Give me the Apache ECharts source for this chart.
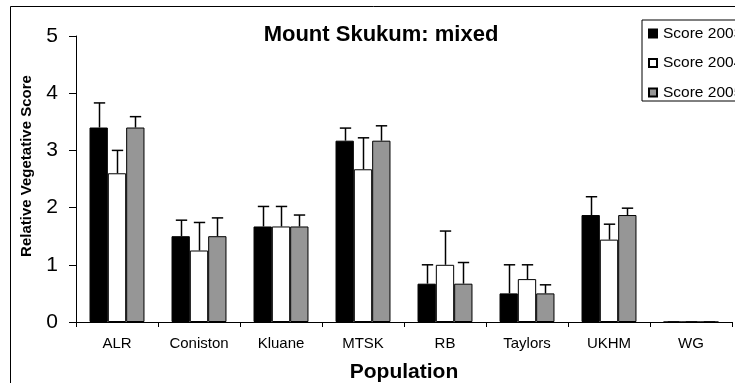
<!DOCTYPE html>
<html>
<head>
<meta charset="utf-8">
<script src="https://cdn.jsdelivr.net/npm/echarts@6/dist/echarts.min.js"></script>
<style>
  html, body { margin: 0; padding: 0; background: #fff; }
  #chart { width: 735px; height: 383px; }
</style>
</head>
<body>
<div id="chart"></div>
<script>
// Populations sampled at Mount Skukum (mixed plots)
const categories = ['ALR', 'Coniston', 'Kluane', 'MTSK', 'RB', 'Taylors', 'UKHM', 'WG'];

// Mean relative vegetative score per year
const score2003 = [3.4, 1.5, 1.67, 3.17, 0.67, 0.5, 1.87, 0];
const score2004 = [2.6, 1.25, 1.67, 2.67, 1.0, 0.75, 1.44, 0];
const score2005 = [3.4, 1.5, 1.67, 3.17, 0.67, 0.5, 1.87, 0];

// Upper error (standard error) per year
const err2003 = [0.43, 0.28, 0.35, 0.22, 0.33, 0.5, 0.32, 0];
const err2004 = [0.4, 0.49, 0.35, 0.55, 0.59, 0.25, 0.27, 0];
const err2005 = [0.19, 0.32, 0.2, 0.26, 0.37, 0.15, 0.12, 0];

const yTicks = [0, 1, 2, 3, 4, 5];

const FONT = '"Liberation Sans", Arial, sans-serif';
const CAT_GAP = 0.33;   // fraction of each category band left empty
const N_SERIES = 3;

const yearSeries = [
  { name: 'Score 2003', values: score2003, errors: err2003, color: '#000000' },
  { name: 'Score 2004', values: score2004, errors: err2004, color: '#ffffff' },
  { name: 'Score 2005', values: score2005, errors: err2005, color: '#969696' }
];

function errorBarRenderer(slot) {
  return function (params, api) {
    const band = api.size([1, 0])[0];
    const barW = band * (1 - CAT_GAP) / N_SERIES;
    const offset = (slot - (N_SERIES - 1) / 2) * barW;
    const base = api.coord([api.value(0), api.value(1)]);
    const top = api.coord([api.value(0), api.value(2)]);
    const x = Math.round(base[0] + offset) + 0.5;
    const capHalf = barW * 0.31;
    const style = { stroke: '#000', lineWidth: 1.5 };
    return {
      type: 'group',
      children: [
        { type: 'line', shape: { x1: x, y1: base[1], x2: x, y2: top[1] }, style: style },
        { type: 'line', shape: { x1: x - capHalf, y1: top[1], x2: x + capHalf, y2: top[1] }, style: style }
      ]
    };
  };
}

const series = [];
yearSeries.forEach(function (s) {
  series.push({
    name: s.name,
    type: 'bar',
    data: s.values,
    barGap: '0%',
    barCategoryGap: (CAT_GAP * 100) + '%',
    itemStyle: { color: s.color, borderColor: '#000', borderWidth: 1 },
    emphasis: { disabled: true },
    z: 2
  });
});
yearSeries.forEach(function (s, i) {
  series.push({
    name: s.name + ' error',
    type: 'custom',
    renderItem: errorBarRenderer(i),
    data: s.values.map(function (v, k) { return [k, v, v + s.errors[k]]; }),
    encode: { x: 0, y: [1, 2] },
    z: 3,
    silent: true
  });
});

const chart = echarts.init(document.getElementById('chart'), null, { renderer: 'canvas' });
chart.setOption({
  animation: false,
  backgroundColor: '#ffffff',
  textStyle: { fontFamily: FONT, color: '#000' },
  grid: { left: 76, right: 3, top: 36, bottom: 61, containLabel: false, outerBoundsMode: 'none' },
  legend: {
    data: yearSeries.map(function (s) { return s.name; }),
    orient: 'vertical',
    left: 642,
    top: 20,
    padding: [5.5, 40, 0.5, 6],
    itemGap: 13.5,
    itemWidth: 8,
    itemHeight: 8,
    icon: 'rect',
    borderColor: '#000',
    borderWidth: 1,
    selectedMode: false,
    textStyle: { fontFamily: FONT, fontSize: 15.5, color: '#000', lineHeight: 15, padding: [0, 0, 0, 1] }
  },
  xAxis: {
    type: 'category',
    data: categories,
    name: 'Population',
    nameLocation: 'middle',
    nameGap: 40,
    nameTextStyle: { fontFamily: FONT, fontSize: 21, fontWeight: 'bold', color: '#000' },
    axisLine: { lineStyle: { color: '#000', width: 1 } },
    axisTick: { show: true, inside: false, length: 5, lineStyle: { color: '#000' } },
    axisLabel: { fontFamily: FONT, fontSize: 15, color: '#000', margin: 14 },
    splitLine: { show: false }
  },
  yAxis: {
    type: 'value',
    min: yTicks[0],
    max: yTicks[yTicks.length - 1],
    interval: 1,
    axisLine: { show: true, lineStyle: { color: '#000', width: 1 } },
    axisTick: { show: true, inside: false, length: 7, lineStyle: { color: '#000' } },
    axisLabel: { fontFamily: FONT, fontSize: 21, color: '#000', margin: 18 },
    splitLine: { show: false }
  },
  graphic: [
    {
      type: 'rect',
      shape: { x: 10.5, y: 6.5, width: 800, height: 400 },
      style: { fill: 'none', stroke: '#000', lineWidth: 1 },
      silent: true,
      z: -1
    },
    {
      type: 'text',
      x: 381,
      y: 35,
      style: {
        text: 'Mount Skukum: mixed',
        font: 'bold 22px ' + FONT,
        fill: '#000',
        align: 'center',
        verticalAlign: 'middle'
      }
    },
    {
      type: 'text',
      x: 27,
      y: 166,
      rotation: Math.PI / 2,
      style: {
        text: 'Relative Vegetative Score',
        font: 'bold 15px ' + FONT,
        fill: '#000',
        align: 'center',
        verticalAlign: 'middle'
      }
    }
  ],
  series: series
});
</script>
</body>
</html>
